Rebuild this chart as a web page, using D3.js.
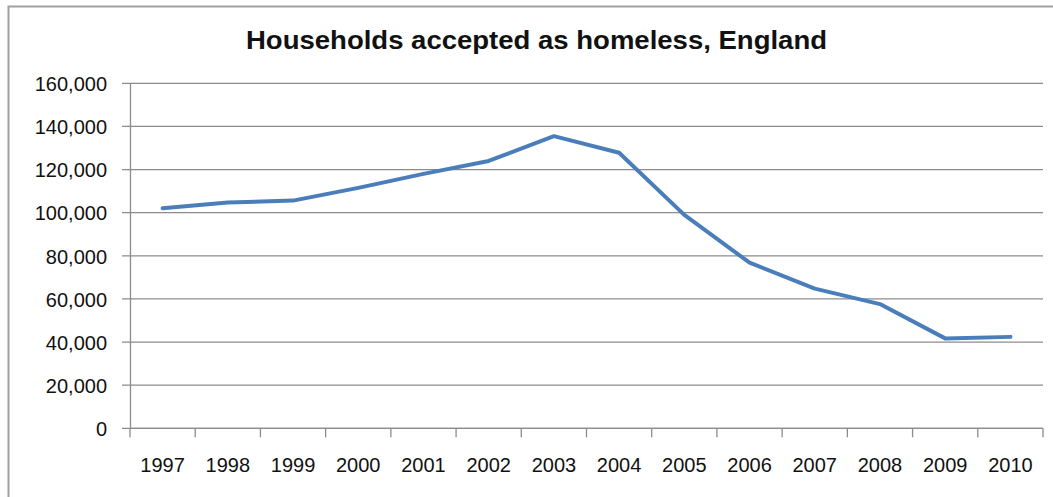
<!DOCTYPE html>
<html>
<head>
<meta charset="utf-8">
<script src="https://cdn.jsdelivr.net/npm/d3@7"></script>
<style>
  body { margin: 0; background: #fff; }
  svg text { font-family: "Liberation Sans", Arial, sans-serif; fill: #111; }
</style>
</head>
<body>
<div class="chart"></div>
<script>
var years = ["1997", "1998", "1999", "2000", "2001", "2002", "2003",
             "2004", "2005", "2006", "2007", "2008", "2009", "2010"];
var households = [102000, 104700, 105600, 111500, 118000, 124000, 135500,
                  127800, 99000, 76800, 64800, 57600, 41700, 42400];
var yTicks = [0, 20000, 40000, 60000, 80000, 100000, 120000, 140000, 160000];
var title = "Households accepted as homeless, England";

var width = 1053, height = 497;
var margin = { top: 83.3, right: 10, bottom: 68.7, left: 130 };

var svg = d3.select(".chart").append("svg")
  .attr("width", width)
  .attr("height", height);

// chart frame (cropped on the right and bottom)
svg.append("path")
  .attr("d", "M8.5," + height + "V6.5H" + width)
  .attr("fill", "none")
  .attr("stroke", "#a0a0a0")
  .attr("stroke-width", 2);

var x = d3.scaleBand()
  .domain(years)
  .range([margin.left, 1043]);

var y = d3.scaleLinear()
  .domain([0, 160000])
  .range([height - margin.bottom, margin.top]);

// gridlines
svg.append("g")
  .selectAll("line")
  .data(yTicks)
  .enter()
  .append("line")
  .attr("x1", margin.left - 8)
  .attr("x2", 1043)
  .attr("y1", function(d) { return y(d); })
  .attr("y2", function(d) { return y(d); })
  .attr("stroke", "#8c8c8c")
  .attr("stroke-width", 1.3);

// y axis
var yAxis = svg.append("g")
  .attr("transform", "translate(" + margin.left + ",0)")
  .call(d3.axisLeft(y).tickValues(yTicks).tickSize(0).tickPadding(23)
    .tickFormat(d3.format(",")));
yAxis.select(".domain").attr("stroke", "#8c8c8c").attr("stroke-width", 1.3);
yAxis.selectAll("text").style("font-size", "20px").attr("dy", "0.36em");

// x axis with ticks between categories
var xAxis = svg.append("g")
  .attr("transform", "translate(0," + y(0) + ")");
xAxis.append("line")
  .attr("x1", margin.left)
  .attr("x2", 1043)
  .attr("stroke", "#8c8c8c")
  .attr("stroke-width", 1.3);
xAxis.selectAll(".tick")
  .data(years.concat(["end"]))
  .enter()
  .append("line")
  .attr("x1", function(d, i) { return margin.left + i * x.step(); })
  .attr("x2", function(d, i) { return margin.left + i * x.step(); })
  .attr("y1", 0)
  .attr("y2", 9)
  .attr("stroke", "#8c8c8c")
  .attr("stroke-width", 1.3);
xAxis.selectAll("text")
  .data(years)
  .enter()
  .append("text")
  .attr("x", function(d) { return x(d) + x.bandwidth() / 2; })
  .attr("y", 43.7)
  .attr("text-anchor", "middle")
  .style("font-size", "20px")
  .text(function(d) { return d; });

// series line
var line = d3.line()
  .x(function(d, i) { return x(years[i]) + x.bandwidth() / 2; })
  .y(function(d) { return y(d); });

svg.append("path")
  .datum(households)
  .attr("d", line)
  .attr("fill", "none")
  .attr("stroke", "#4a7ebb")
  .attr("stroke-width", 4)
  .attr("stroke-linejoin", "round")
  .attr("stroke-linecap", "round");

// title
svg.append("text")
  .attr("x", 536.5)
  .attr("y", 49.3)
  .attr("text-anchor", "middle")
  .attr("textLength", 581)
  .attr("lengthAdjust", "spacingAndGlyphs")
  .style("font-size", "26px")
  .style("font-weight", "bold")
  .text(title);
</script>
</body>
</html>
